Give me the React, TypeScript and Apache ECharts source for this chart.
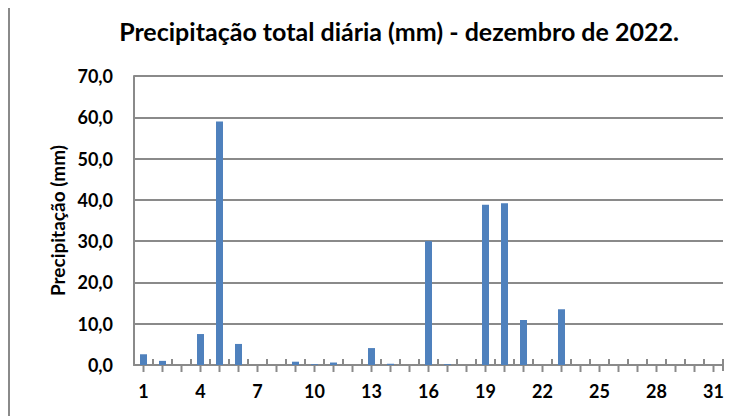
import React, { useEffect, useRef } from "react";
import * as echarts from "echarts";

const days = ["1","2","3","4","5","6","7","8","9","10","11","12","13","14","15","16","17","18","19","20","21","22","23","24","25","26","27","28","29","30","31"];
const precipitation = [2.6, 1.0, 0, 7.5, 59.0, 5.1, 0, 0, 0.8, 0.2, 0.6, 0, 4.1, 0.3, 0, 30.0, 0.2, 0, 38.8, 39.2, 10.9, 0, 13.5, 0, 0, 0, 0, 0, 0, 0, 0];
const titleText = "Precipitação total diária (mm) - dezembro de 2022.";
const yName = "Precipitação (mm)";

const FONT = "Lato";
const GRAY = "#8a8a8a";

export default function App() {
  const ref = useRef<HTMLDivElement>(null);
  useEffect(() => {
    if (!ref.current) return;
    const chart = echarts.init(ref.current, null, { renderer: "svg" });
    chart.setOption({
      animation: false,
      backgroundColor: "#ffffff",
      title: {
        text: titleText,
        left: 386,
        top: 5,
        textAlign: "center",
        textStyle: { fontFamily: FONT, fontWeight: "bold", fontSize: 25, color: "#000" },
      },
      graphic: [
        { type: "line", shape: { x1: 1, y1: 0, x2: 1, y2: 408 }, style: { stroke: GRAY, lineWidth: 2 } },
      ],
      grid: { left: 126, right: 18, top: 68, bottom: 51 },
      xAxis: {
        type: "category",
        data: days,
        boundaryGap: true,
        axisLine: { show: true, lineStyle: { color: GRAY, width: 2 } },
        axisTick: { show: false },
        axisLabel: {
          interval: 2,
          margin: 17,
          fontFamily: FONT,
          fontWeight: "bold",
          fontSize: 18,
          color: "#000",
        },
        splitLine: { show: false },
      },
      yAxis: {
        type: "value",
        min: 0,
        max: 70,
        interval: 10,
        name: yName,
        nameLocation: "middle",
        nameGap: 66,
        nameTextStyle: { fontFamily: FONT, fontWeight: "bold", fontSize: 19, color: "#000" },
        axisLine: { show: true, lineStyle: { color: GRAY, width: 2 } },
        axisTick: { show: false },
        axisLabel: {
          margin: 21,
          fontFamily: FONT,
          fontWeight: "bold",
          fontSize: 18,
          color: "#000",
          formatter: (v: number) => v.toFixed(1).replace(".", ","),
        },
        splitLine: { show: true, lineStyle: { color: GRAY, width: 2 } },
      },
      series: [
        {
          type: "bar",
          data: precipitation,
          barWidth: 7,
          itemStyle: { color: "#4F81BD" },
          z: 3,
        },
        {
          type: "custom",
          silent: true,
          clip: false,
          z: 4,
          data: days.map((_d, i) => [i, 0]),
          renderItem: (params: any, api: any) => {
            const idx = api.value(0);
            const p = api.coord([idx, 0]);
            const w = api.size([1, 0])[0];
            const children: any[] = [
              {
                type: "line",
                shape: { x1: p[0] - w / 2, y1: p[1], x2: p[0] - w / 2, y2: p[1] - 6 },
                style: { stroke: GRAY, lineWidth: 2 },
              },
              {
                type: "rect",
                shape: { x: p[0] - 1, y: p[1], width: 2, height: 7 },
                style: { fill: GRAY },
              },
            ];
            if (params.dataIndex === days.length - 1) {
              children.push({
                type: "line",
                shape: { x1: p[0] + w / 2, y1: p[1] + 6, x2: p[0] + w / 2, y2: p[1] - 6 },
                style: { stroke: GRAY, lineWidth: 2 },
              });
            }
            return { type: "group", children };
          },
        },
      ],
    });
    return () => chart.dispose();
  }, []);
  return <div ref={ref} style={{ width: 733, height: 408 }} />;
}
